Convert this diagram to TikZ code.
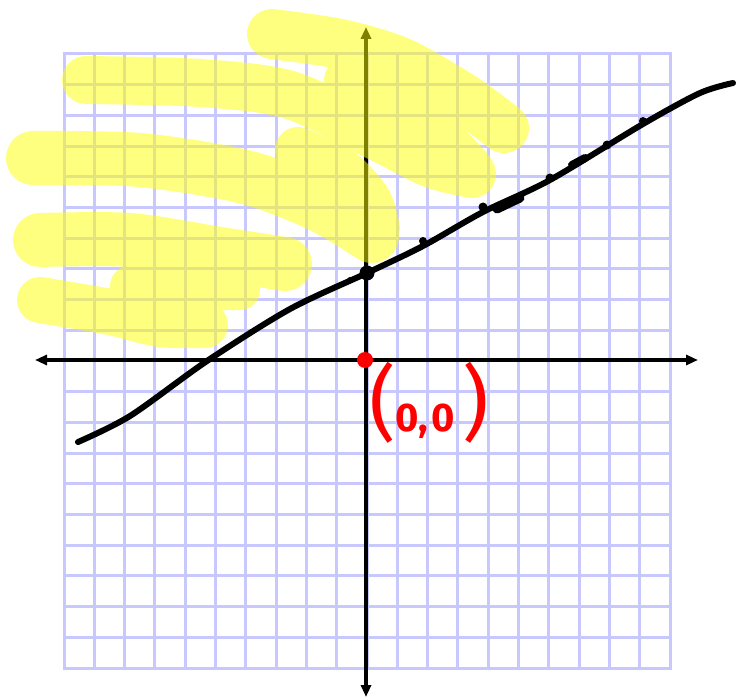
\documentclass[tikz,border=0pt]{standalone}
\usepackage{fontspec}
\setmainfont{Fira Sans}
\usetikzlibrary{arrows.meta}
\definecolor{gridblue}{RGB}{200,200,255}
\definecolor{hlyellow}{RGB}{255,255,0}
\definecolor{penred}{RGB}{255,0,0}
\begin{document}
\begin{tikzpicture}[x=1pt,y=-1pt,
  gridline/.style={draw=gridblue, line width=3pt, line cap=rect},
  axisline/.style={line width=3.5pt, draw=black, {Triangle[length=12pt,width=10pt]}-{Triangle[length=12pt,width=10pt]}},
  hl/.style={draw=hlyellow, line width=#1, line cap=round, line join=round},
  pen/.style={line width=6pt, line cap=round, line join=round, draw=black},
  blob/.style={circle, fill=black, inner sep=0pt, minimum size=#1}]
\useasboundingbox (0,0) rectangle (736,700);
\fill[white] (0,0) rectangle (736,700);
% grid
\foreach \i in {0,...,20} \draw[gridline] ({64+\i*30.3},54) -- ({64+\i*30.3},668);
\foreach \j in {0,...,20} \draw[gridline] (64,{54+\j*30.7}) -- (670,{54+\j*30.7});
% axes
\coordinate (xl) at (35,360);
\coordinate (xr) at (698,360);
\coordinate (yt) at (366,27);
\coordinate (yb) at (366,697);
\draw[axisline] (xl) -- (xr);
\draw[axisline] (yt) -- (yb);
% yellow highlight scribble
\begin{scope}[transparency group, opacity=0.5]
  \draw[hl=50] plot[smooth] coordinates {(272,34) (340,44) (400,62) (460,96) (504,128)};
  \draw[hl=42] plot[smooth] coordinates {(345,80) (388,99) (432,127) (472,168)};
  \draw[hl=48] plot[smooth] coordinates {(86,80) (200,83) (290,95) (380,138) (432,164) (472,174)};
  \draw[hl=46] plot[smooth] coordinates {(298,150) (340,170) (368,200) (377,228)};
  \draw[hl=54] plot[smooth] coordinates {(33,158) (140,160) (245,177) (320,205) (372,236)};
  \draw[hl=54] plot[smooth] coordinates {(40,240) (130,240) (220,254) (285,264)};
  \draw[hl=40] plot[smooth] coordinates {(130,286) (180,290) (240,290)};
  \draw[hl=46] plot[smooth] coordinates {(40,300) (110,312) (160,324) (205,325)};
\end{scope}
% the line
\draw[pen] plot[smooth, tension=0.5] coordinates {(78,442) (130,416) (207,361) (290,309) (367,273) (423,246) (483,212) (550,180) (643,124) (700,93) (733,83)};
\node[blob=15pt] (yint) at (367,273) {};
\node[blob=6pt] (t1) at (350,280) {};
\node[blob=8pt] (t2) at (423,241) {};
\node[blob=9pt] (t3) at (483,207) {};
\draw[line width=9pt, line cap=round] (497,209) -- (520,198);
\node[blob=9pt] (t4) at (550,178) {};
\draw[line width=8pt, line cap=round] (572,165) -- (585,158);
\node[blob=9pt] (t5) at (607,145) {};
\node[blob=8pt] (t6) at (643,121) {};
% origin
\node[circle, fill=penred, minimum size=16pt, inner sep=0pt] (origin) at (365,360) {};
\node[anchor=base west, inner sep=0pt, text=penred] (lbl) at (369,431)
  {{\fontsize{82}{82}\selectfont(}{\fontsize{40}{40}\selectfont\bfseries 0,\hspace{3pt}0}\hspace{8pt}{\fontsize{82}{82}\selectfont)}};
\end{tikzpicture}
\end{document}
